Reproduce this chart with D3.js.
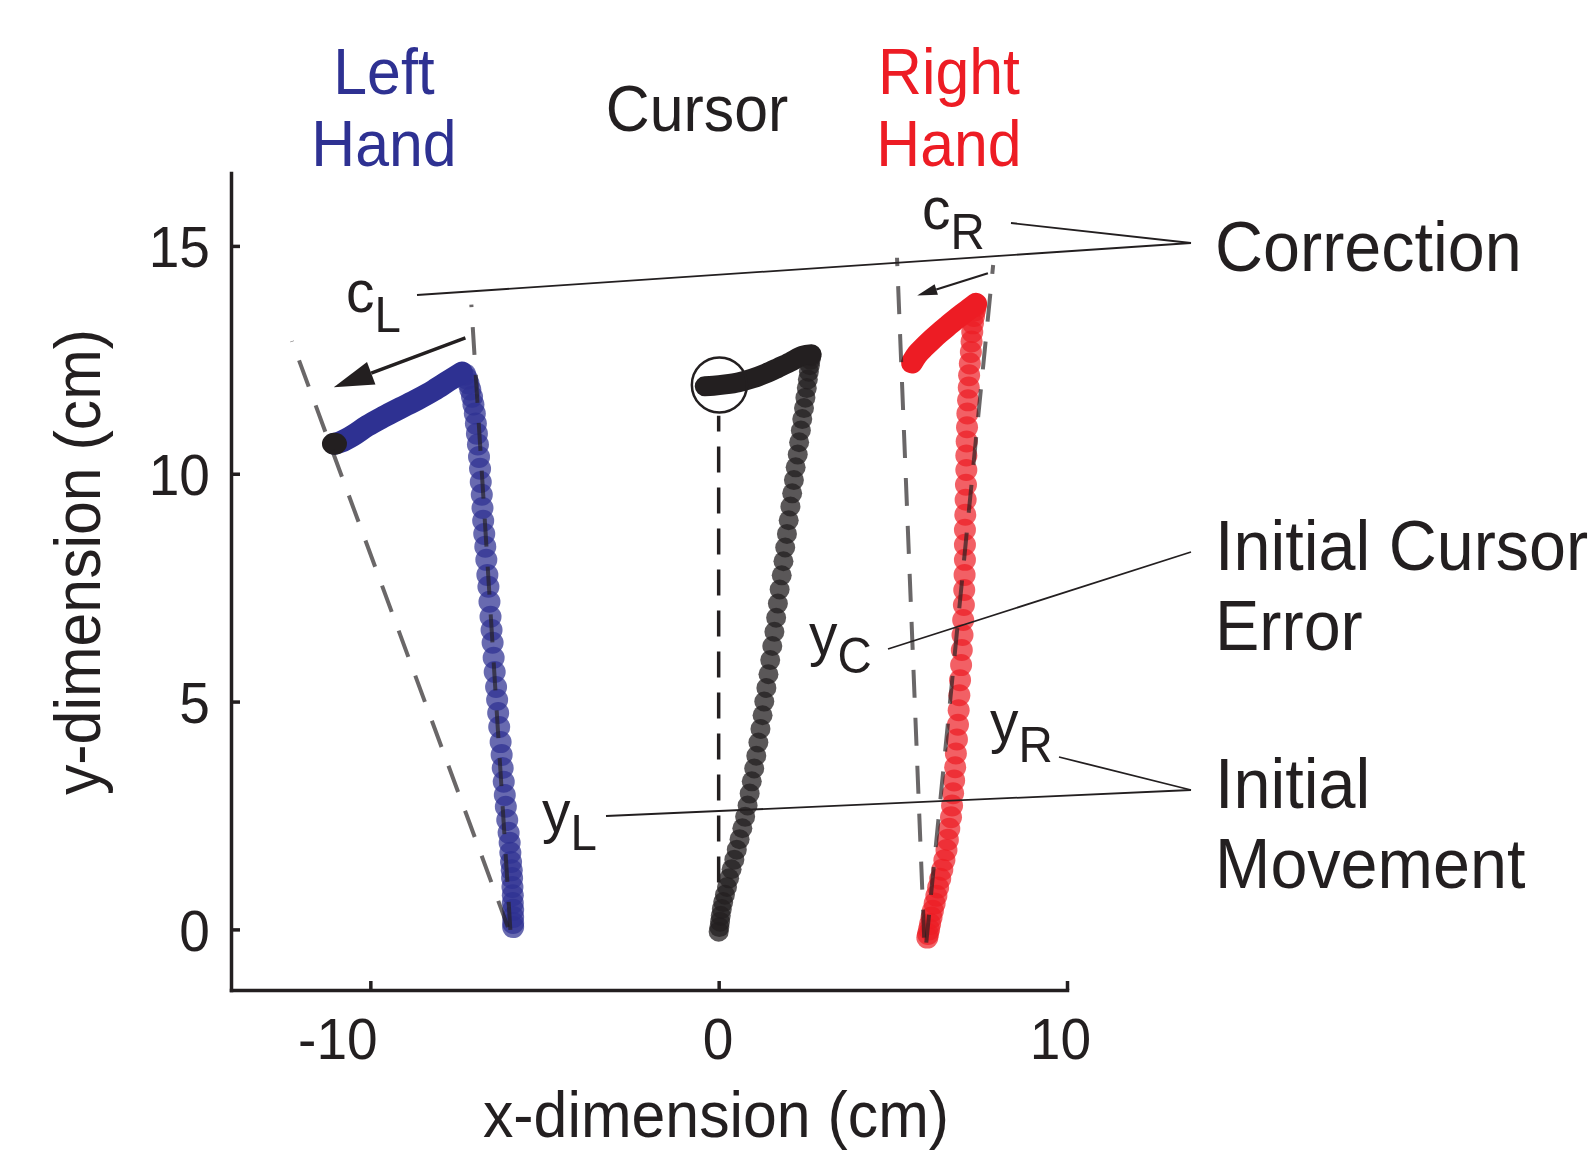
<!DOCTYPE html>
<html>
<head>
<meta charset="utf-8">
<script src="https://cdn.jsdelivr.net/npm/d3@7"></script>
<style>
  html, body { margin: 0; padding: 0; background: #fff; }
  svg { display: block; font-family: "Liberation Sans", Arial, Helvetica, sans-serif; }
</style>
</head>
<body>
<svg id="chart" width="1589" height="1152"></svg>
<script>
// ---------------- data (cm) ----------------
const xTicks = [-10, 0, 10];
const yTicks = [0, 5, 10, 15];

// Left hand: sampled positions during the initial movement (x, y)
const leftMove = [
  [-5.90,0.05],[-5.90,0.14],[-5.90,0.27],[-5.90,0.43],[-5.91,0.58],[-5.91,0.75],[-5.92,0.93],
  [-5.93,1.13],[-5.94,1.30],[-5.96,1.48],[-5.98,1.68],[-6.00,1.90],[-6.03,2.12],[-6.07,2.40],
  [-6.11,2.69],[-6.14,2.95],[-6.17,3.24],[-6.20,3.54],[-6.23,3.83],[-6.26,4.11],[-6.30,4.44],
  [-6.33,4.75],[-6.36,5.04],[-6.39,5.32],[-6.43,5.65],[-6.46,5.96],[-6.49,6.29],[-6.52,6.57],
  [-6.55,6.86],[-6.58,7.19],[-6.61,7.52],[-6.64,7.78],[-6.67,8.11],[-6.70,8.40],[-6.73,8.68],
  [-6.76,8.97],[-6.78,9.25],[-6.80,9.54],[-6.83,9.82],[-6.85,10.11],[-6.88,10.37],[-6.91,10.64],
  [-6.94,10.88],[-6.97,11.10],[-7.00,11.32],[-7.04,11.52],[-7.08,11.69],[-7.13,11.85],
  [-7.18,11.98],[-7.23,12.09],[-7.28,12.18]
];
// Left hand: correction phase (peak to end)
const leftCorrection = [
  [-7.37,12.22],[-7.75,12.04],[-8.18,11.83],[-8.65,11.63],[-9.14,11.44],[-9.62,11.25],
  [-10.09,11.05],[-10.50,10.84],[-10.85,10.70],[-11.03,10.66]
];

// Cursor: initial movement samples
const cursorMove = [
  [0.00,-0.05],[0.02,0.05],[0.04,0.17],[0.06,0.30],[0.09,0.45],[0.13,0.60],[0.18,0.76],
  [0.24,0.93],[0.30,1.12],[0.37,1.32],[0.45,1.53],[0.52,1.75],[0.60,1.98],[0.68,2.22],
  [0.76,2.47],[0.83,2.72],[0.89,2.98],[0.95,3.25],[1.02,3.53],[1.08,3.81],[1.14,4.10],
  [1.20,4.40],[1.26,4.70],[1.31,5.00],[1.37,5.30],[1.43,5.60],[1.48,5.91],[1.54,6.22],
  [1.60,6.53],[1.65,6.84],[1.70,7.15],[1.75,7.46],[1.81,7.77],[1.86,8.08],[1.91,8.38],
  [1.96,8.68],[2.01,8.98],[2.06,9.28],[2.11,9.57],[2.16,9.86],[2.21,10.14],[2.27,10.42],
  [2.31,10.69],[2.36,10.95],[2.40,11.20],[2.45,11.44],[2.49,11.67],[2.53,11.88],[2.56,12.07],
  [2.59,12.24],[2.62,12.38],[2.64,12.50],[2.66,12.58]
];
const cursorCorrection = [
  [2.67,12.62],[2.40,12.59],[2.05,12.45],[1.72,12.33],[1.35,12.20],[0.96,12.09],
  [0.58,12.01],[0.19,11.96],[-0.15,11.93],[-0.40,11.92]
];

// Right hand: initial movement samples
const rightMove = [
  [5.99,-0.18],[6.01,-0.10],[6.04,0.00],[6.07,0.12],[6.11,0.26],[6.15,0.41],[6.20,0.57],
  [6.25,0.74],[6.30,0.92],[6.36,1.11],[6.42,1.31],[6.48,1.52],[6.54,1.74],[6.58,1.97],
  [6.62,2.21],[6.67,2.46],[6.70,2.72],[6.73,2.99],[6.76,3.27],[6.79,3.56],[6.81,3.86],
  [6.84,4.17],[6.87,4.49],[6.89,4.81],[6.91,5.14],[6.93,5.47],[6.96,5.80],[6.98,6.13],
  [7.00,6.46],[7.02,6.79],[7.04,7.12],[7.05,7.45],[7.06,7.78],[7.07,8.11],[7.07,8.44],
  [7.07,8.77],[7.08,9.10],[7.09,9.43],[7.10,9.76],[7.11,10.08],[7.11,10.40],[7.12,10.71],
  [7.13,11.02],[7.14,11.32],[7.16,11.61],[7.18,11.89],[7.19,12.16],[7.21,12.42],[7.24,12.67],
  [7.26,12.90],[7.28,13.11],[7.30,13.30],[7.33,13.46],[7.36,13.59],[7.38,13.68]
];
const rightCorrection = [
  [7.39,13.73],[7.20,13.62],[7.01,13.51],[6.79,13.38],[6.57,13.24],[6.35,13.10],
  [6.13,12.95],[5.90,12.78],[5.70,12.62],[5.55,12.44]
];

// Reference lines: initial movement direction and final direction for each hand
const leftInitialDir = [[-5.98,-0.01],[-7.10,13.71]];
const leftFinalDir   = [[-6.05,0.05],[-12.25,12.91]];
const rightInitialDir = [[5.96,-0.29],[7.88,14.58]];
const rightFinalDir   = [[5.90,-0.18],[5.12,14.74]];
const cursorStraight  = [[0,1.03],[0,11.27]];

// Correction arrows (from, to)
const leftArrow  = [[-7.27,12.98],[-11.05,11.90]];
const rightArrow = [[7.73,14.40],[5.70,13.91]];

// Target
const target = [0.02, 11.95];

// ---------------- drawing ----------------
const ink = "#231f20", blue = "#2e3192", red = "#ed1c24";
const SX = 0.95; // slightly condensed lettering

const svg = d3.select("#chart");
const x = d3.scaleLinear().domain([-14, 10]).range([231, 1067]);
const y = d3.scaleLinear().domain([-1.33, 16.6]).range([990, 173]);
const line = d3.line().x(d => x(d[0])).y(d => y(d[1]));
const smooth = d3.line().x(d => x(d[0])).y(d => y(d[1])).curve(d3.curveCatmullRom.alpha(0.5));

// axes
const gx = svg.append("g").attr("transform", `translate(0,${y(-1.33)})`)
  .call(d3.axisBottom(x).tickValues(xTicks).tickSizeInner(-9).tickSizeOuter(0).tickFormat(d => String(d)));
const gy = svg.append("g").attr("transform", `translate(${x(-14)},0)`)
  .call(d3.axisLeft(y).tickValues(yTicks).tickSizeInner(-9).tickSizeOuter(0).tickFormat(d => String(d)));

[gx, gy].forEach(g => {
  g.attr("font-family", null).attr("font-size", 58);
  g.select(".domain").attr("stroke", ink).attr("stroke-width", 3.5).attr("stroke-linecap", "square");
  g.selectAll(".tick line").attr("stroke", ink).attr("stroke-width", 3.5);
  g.selectAll(".tick text").attr("fill", ink);
});
const xShift = d => d < 0 ? -33 : (d > 0 ? -7 : -1);
gx.selectAll(".tick text")
  .attr("y", null).attr("dy", null).attr("text-anchor", "middle")
  .attr("transform", d => `translate(${xShift(d)},69) scale(${SX},1)`);
gy.selectAll(".tick text")
  .attr("x", null).attr("dy", "0.36em").attr("text-anchor", "end")
  .attr("transform", `translate(-21,0) scale(${SX},1)`);

// trajectories: sampled markers + dense correction phase
function trajectory(move, corr, color, r, alpha) {
  const g = svg.append("g");
  g.selectAll("circle").data(move).join("circle")
    .attr("cx", d => x(d[0])).attr("cy", d => y(d[1])).attr("r", r)
    .attr("fill", color).attr("fill-opacity", alpha);
  g.append("path").attr("d", smooth(corr))
    .attr("fill", "none").attr("stroke", color).attr("stroke-width", 2 * r)
    .attr("stroke-linecap", "round").attr("stroke-linejoin", "round");
  return g;
}
trajectory(leftMove, leftCorrection, blue, 11, 0.72);
trajectory(cursorMove, cursorCorrection, ink, 10, 0.75);
trajectory(rightMove, rightCorrection, red, 11, 0.7);

// end of left-hand correction
const lastL = leftCorrection[leftCorrection.length - 1];
svg.append("ellipse").attr("cx", x(lastL[0])).attr("cy", y(lastL[1]))
  .attr("rx", 12.5).attr("ry", 11).attr("fill", ink);

// direction lines
[leftInitialDir, leftFinalDir, rightInitialDir, rightFinalDir].forEach(seg => {
  svg.append("path").attr("d", line(seg)).attr("fill", "none")
    .attr("stroke", ink).attr("stroke-opacity", 0.68).attr("stroke-width", 4)
    .attr("stroke-dasharray", "28,20");
});
svg.append("path").attr("d", line(cursorStraight)).attr("fill", "none")
  .attr("stroke", ink).attr("stroke-width", 3.5).attr("stroke-dasharray", "26,15");

// target circle
svg.append("circle").attr("cx", x(target[0])).attr("cy", y(target[1])).attr("r", 27.5)
  .attr("fill", "none").attr("stroke", ink).attr("stroke-width", 2.5);

// arrows
function arrow(seg, width, headLen, headW) {
  const [a, b] = seg;
  const x1 = x(a[0]), y1 = y(a[1]), x2 = x(b[0]), y2 = y(b[1]);
  const ang = Math.atan2(y2 - y1, x2 - x1);
  const bx = x2 - headLen * Math.cos(ang), by = y2 - headLen * Math.sin(ang);
  svg.append("line").attr("x1", x1).attr("y1", y1).attr("x2", bx).attr("y2", by)
    .attr("stroke", ink).attr("stroke-width", width);
  const px = Math.sin(ang) * headW / 2, py = -Math.cos(ang) * headW / 2;
  svg.append("path")
    .attr("d", `M${x2},${y2}L${bx + px},${by + py}L${bx - px},${by - py}Z`)
    .attr("fill", ink);
}
arrow(leftArrow, 3.5, 40, 24);
arrow(rightArrow, 2.2, 20, 11);

// annotation leaders
const leaders = [
  [[417, 295], [1191, 243]],
  [[1011, 223], [1191, 243]],
  [[888, 649], [1191, 552]],
  [[606, 816], [1191, 790]],
  [[1059, 757], [1191, 790]]
];
leaders.forEach(([p, q]) => {
  svg.append("line").attr("x1", p[0]).attr("y1", p[1]).attr("x2", q[0]).attr("y2", q[1])
    .attr("stroke", ink).attr("stroke-width", 1.8);
});

// text helper
function text(x0, y0, str, size, color, anchor) {
  return svg.append("text")
    .attr("transform", `translate(${x0},${y0}) scale(${SX},1)`)
    .attr("font-size", size).attr("fill", color).attr("text-anchor", anchor || "start")
    .text(str);
}

// column headings
text(384, 94, "Left", 64, blue, "middle");
text(384, 166, "Hand", 64, blue, "middle");
text(697, 131, "Cursor", 64, ink, "middle");
text(949, 94, "Right", 64, red, "middle");
text(949, 166, "Hand", 64, red, "middle");

// right-side annotations
text(1215, 271, "Correction", 70, ink);
text(1215, 570, "Initial Cursor", 70, ink);
text(1215, 650, "Error", 70, ink);
text(1215, 808, "Initial", 70, ink);
text(1215, 888, "Movement", 70, ink);

// symbol labels with subscripts
function symbol(x0, y0, main, sub, drop) {
  const t = svg.append("text")
    .attr("transform", `translate(${x0},${y0}) scale(${SX},1)`)
    .attr("fill", ink).attr("font-size", 60);
  t.append("tspan").text(main);
  t.append("tspan").attr("font-size", 50).attr("dy", drop).text(sub);
}
symbol(346, 312, "c", "L", 20);
symbol(922, 229, "c", "R", 20);
symbol(809, 655, "y", "C", 18);
symbol(990, 742, "y", "R", 20);
symbol(542, 832, "y", "L", 18);

// axis titles
text(716, 1137, "x-dimension (cm)", 64, ink, "middle");
svg.append("text")
  .attr("transform", `translate(100,562) rotate(-90) scale(${SX},1)`)
  .attr("font-size", 64).attr("fill", ink).attr("text-anchor", "middle")
  .text("y-dimension (cm)");
</script>
</body>
</html>
